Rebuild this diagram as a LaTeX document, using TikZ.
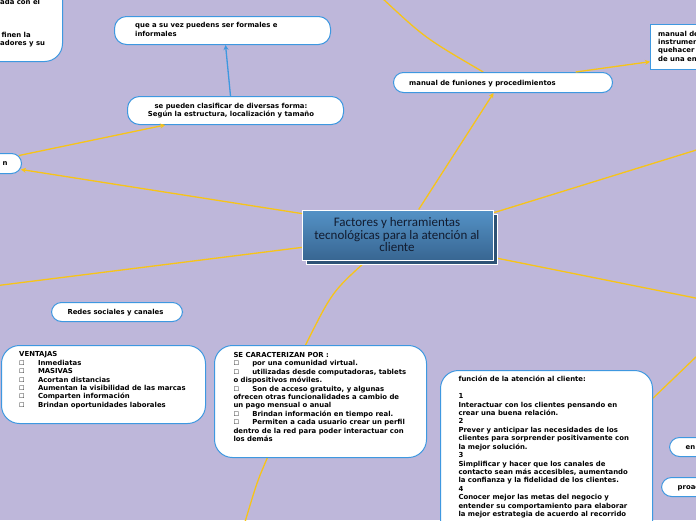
\documentclass[tikz,border=0pt]{standalone}
\usepackage{fontspec}
\setmainfont{DejaVu Sans}
\newfontfamily\carl{Carlito}
\newfontfamily\symf{DejaVu Sans}
\usetikzlibrary{arrows.meta,calc}
\pgfdeclarelayer{bglayer}
\pgfdeclarelayer{linelayer}
\pgfsetlayers{bglayer,linelayer,main}
\definecolor{bgc}{RGB}{190,183,218}
\definecolor{yel}{RGB}{247,196,24}
\definecolor{bord}{RGB}{62,152,224}
\definecolor{ctop}{RGB}{84,146,198}
\definecolor{cbot}{RGB}{56,102,146}
\definecolor{ctxt}{RGB}{18,28,48}
\newcommand{\bx}{\makebox[18.8pt][l]{{\symf\fontsize{6.2}{8.43}\selectfont ☐}}}
\tikzset{
  pill/.style={draw=bord, line width=1pt, fill=white, rounded corners=10pt, inner sep=0pt},
  bigbox/.style={draw=bord, line width=1pt, fill=white, rounded corners=18pt, inner sep=0pt},
  sqbox/.style={draw=bord, line width=1pt, fill=white, inner sep=0pt},
  txt/.style={font=\fontsize{6.9}{8.43}\selectfont\bfseries, align=left, inner sep=0pt, text=black},
  yline/.style={draw=yel, line width=1.3pt},
  yarrow/.style={yline, -{Stealth[length=5pt,width=5pt]}},
  barrow/.style={draw=bord, line width=1.3pt, -{Stealth[length=5pt,width=5pt]}},
  central/.style={draw=white, line width=1.2pt, minimum width=191pt, minimum height=50pt, inner sep=0pt},
}
\begin{document}
\begin{tikzpicture}[x=1pt,y=-1pt]
\begin{pgfonlayer}{bglayer}
\fill[bgc] (0,0) rectangle (696,520);
\end{pgfonlayer}
\useasboundingbox (0,0) rectangle (696,520);

% top-left partial box
\node[bigbox, minimum width=130pt, minimum height=100pt, anchor=south east] (A) at (63,62) {};
\node[txt, anchor=base west] (a1) at (0,4) {ada con el};
\node[txt, anchor=base west] (a2) at (1.5,37) {finen la};
\node[txt, anchor=base west] (a3) at (0,45.5) {adores y su};

% que a su vez (base = last line)
\node[pill, rounded corners=12pt, minimum width=216pt, minimum height=28pt, anchor=north west] (B) at (114,16) {};
\node[txt, anchor=base west] (Bt) at (135,36.4) {que a su vez puedens ser formales e\\informales};

% se pueden clasificar
\node[pill, rounded corners=12pt, minimum width=216pt, minimum height=28pt, anchor=north west] (Cb) at (127,96) {};
\node[txt, align=center, anchor=base] (Ct) at (231,116.9) {se pueden clasificar de diversas forma:\\Según la estructura, localización y tamaño};

% n box
\node[pill, minimum width=42pt, minimum height=20pt, anchor=north east] (N) at (22,153) {};
\node[txt, anchor=base west] (Nt) at (2.5,165.5) {n};

% manual de funiones
\node[pill, minimum width=219pt, minimum height=20pt, anchor=north west] (M) at (393,72) {};
\node[txt, anchor=base west] (Mt) at (409,85.5) {manual de funiones y procedimientos};

% right square box
\node[sqbox, minimum width=70pt, minimum height=45pt, anchor=north west] (R) at (650,24) {};
\node[txt, anchor=base west] (Rt) at (658,61.3) {manual de\\instrumen\\quehacer\\de una en};

% central node
\node[central, fill=cbot!80!black, anchor=north west] (Csh) at (306,213.5) {};
\node[central, top color=ctop, bottom color=cbot, anchor=north west] (C0) at (302,209.5) {};
\node[font=\carl\fontsize{13}{12.5}\selectfont, text=ctxt, align=center, anchor=base, inner sep=0pt] (C0t) at (397,251.7) {Factores y herramientas\\tecnológicas para la atención al\\cliente};

% Redes sociales
\node[pill, minimum width=131pt, minimum height=19pt, anchor=north west] (Rd) at (51,302) {};
\node[txt, anchor=base] (Rdt) at (115.5,314) {Redes sociales y canales};

% VENTAJAS
\node[bigbox, minimum width=204pt, minimum height=78pt, anchor=north west] (V) at (1,345) {};
\node[txt, anchor=base west] (Vt) at (19,407.3) {VENTAJAS\\
\bx Inmediatas\\
\bx MASIVAS\\
\bx Acortan distancias\\
\bx Aumentan la visibilidad de las marcas\\
\bx Comparten información\\
\bx Brindan oportunidades laborales};

% SE CARACTERIZAN
\node[bigbox, minimum width=212pt, minimum height=112pt, anchor=north west] (S) at (214,345) {};
\node[txt, anchor=base west] (St) at (233.3,441.6) {SE CARACTERIZAN POR :\\
\bx por una comunidad virtual.\\
\bx utilizadas desde computadoras, tablets\\
o dispositivos móviles.\\
\bx Son de acceso gratuito, y algunas\\
ofrecen otras funcionalidades a cambio de\\
un pago mensual o anual\\
\bx Brindan información en tiempo real.\\
\bx Permiten a cada usuario crear un perfil\\
dentro de la red para poder interactuar con\\
los demás};

% función
\node[bigbox, minimum width=212pt, minimum height=175pt, anchor=north west] (F) at (440,370) {};
\node[txt, anchor=base west] (Ft) at (458.3,516.6) {función de la atención al cliente:\\[8.43pt]
1\\
Interactuar con los clientes pensando en\\
crear una buena relación.\\
2\\
Prever y anticipar las necesidades de los\\
clientes para sorprender positivamente con\\
la mejor solución.\\
3\\
Simplificar y hacer que los canales de\\
contacto sean más accesibles, aumentando\\
la confianza y la fidelidad de los clientes.\\
4\\
Conocer mejor las metas del negocio y\\
entender su comportamiento para elaborar\\
la mejor estrategia de acuerdo al recorrido};

% right small boxes
\node[pill, minimum width=50pt, minimum height=19pt, anchor=north west] (E) at (669,437) {};
\node[txt, anchor=base west] (Et) at (685.5,449.5) {en};
\node[pill, minimum width=60pt, minimum height=19pt, anchor=north west] (P) at (661,477) {};
\node[txt, anchor=base west] (Pt) at (677.5,489.5) {proac};

% free ends
\coordinate (top1) at (382,-2);
\coordinate (e1) at (698,149.5);
\coordinate (e2) at (698,298.5);
\coordinate (e3) at (-2,285.5);
\coordinate (e4) at (245,522);
\coordinate (e5) at (698,355);

\begin{pgfonlayer}{linelayer}
\draw[yline] (top1) .. controls (425,38) .. ($(M.north west)!0.41!(M.north east)$);
\draw[yline] ($(C0.north east)!0.06!(C0.south east)$) -- (e1);
\draw[yline] ($(C0.north east)!0.94!(C0.south east)$) -- (e2);
\draw[yline] ($(C0.north west)!0.74!(C0.south west)$) -- (e3);
\draw[yline] ($(C0.south west)!0.335!(C0.south east)$) .. controls (332,292) .. ($(S.north west)!0.43!(S.north east)$);
\draw[yline] ($(S.south west)!0.25!(S.south east)$) .. controls (257,482) .. (e4);
\draw[yline] ($(F.north east)!0.16!(F.south east)$) -- (e5);
\end{pgfonlayer}
\draw[yarrow] ($(C0.north west)!0.607!(C0.north east)$) -- ($(M.south west)!0.457!(M.south east)$);
\draw[yarrow] ($(M.north west)!0.83!(M.north east)$) -- ($(R.north west)!0.82!(R.south west)$);
\draw[yarrow] ($(C0.north west)!0.08!(C0.south west)$) -- ($(N.east)+(-1,6)$);
\draw[yarrow] ($(N.east)+(-3,-8)$) -- ($(Cb.south west)!0.176!(Cb.south east)$);
\draw[barrow] ($(Cb.north west)!0.477!(Cb.north east)$) -- ($(B.south west)!0.514!(B.south east)$);
\end{tikzpicture}
\end{document}
